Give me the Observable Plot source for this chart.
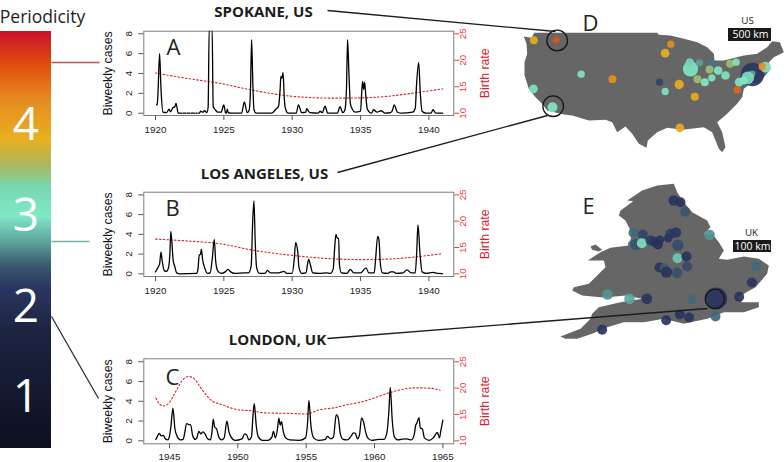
<!DOCTYPE html>
<html><head><meta charset="utf-8">
<script src="https://cdn.jsdelivr.net/npm/d3@7"></script>
<script src="https://cdn.jsdelivr.net/npm/@observablehq/plot@0.6"></script>
<style>
html,body{margin:0;padding:0;background:#fff}
#chart{position:relative;width:784px;height:462px;overflow:hidden}
#chart svg{position:absolute;left:0;top:0;background:transparent}
</style></head><body><div id="chart"></div>
<script>
// ---------- data ----------
const spokaneYears=[1920.08,1920.12,1920.18,1920.3,1920.4,1920.55,1920.8,1921,1921.1,1921.3,1921.4,1921.5,1921.65,1921.72,1921.9,1921.95,1922,1922.2,1922.25,1922.3,1922.5,1922.55,1922.6,1922.85,1922.9,1922.95,1923.05,1923.1,1923.15,1923.2,1923.3,1923.45,1923.6,1923.75,1923.85,1923.93,1924.02,1924.14,1924.22,1924.4,1924.55,1924.8,1925,1925.12,1925.18,1925.25,1925.32,1925.5,1926.3,1926.5,1926.7,1926.85,1926.95,1927.03,1927.12,1927.2,1927.35,1928.5,1928.8,1929,1929.12,1929.17,1929.25,1929.33,1929.42,1929.5,1929.7,1930.3,1930.45,1930.7,1931,1931.05,1931.3,1931.9,1932.05,1932.2,1932.4,1932.6,1933.3,1933.5,1933.7,1933.85,1933.97,1934.05,1934.15,1934.25,1934.4,1934.6,1935,1935.08,1935.15,1935.22,1935.3,1935.38,1935.5,1935.8,1935.95,1936.2,1936.5,1936.8,1937.2,1937.35,1937.45,1937.7,1938,1938.8,1939,1939.1,1939.25,1939.37,1939.5,1939.8,1940.15,1940.3,1940.5,1941];
const spokaneCases=[0.9,0.8,2,6,2.5,0.1,0.05,0.4,0.15,0.6,0.6,1,0.05,0,0,null,0,0,null,0,0,null,0,0,null,0,0,null,0,0,0.2,0.1,0.25,0.05,0.6,8.6,8.6,8.6,0.7,0.3,0.1,0.1,0.85,0.05,0,0.4,0.05,0,0,1.15,0.05,0.3,2.5,7.4,3,0.4,0,0,0.4,0.7,2.5,3.7,3.5,4.1,1.5,0.5,0,0,0.85,0.05,0.1,0.45,0.05,0,0.2,0.05,0.7,0,0,0.65,0.05,0.3,2.5,7.4,4,1,0.4,0.1,0.2,2,3.2,2.4,3.1,1.8,0.4,0,0.35,0.1,0.25,0,0.05,0.35,0.85,0.1,0,0.1,0.5,3,5.1,2,0.2,0,0,0.35,0,0];
const spokaneBirthYears=[1920,1922,1925,1927,1930,1933,1935,1937,1939,1941];
const spokaneBirthRate=[17.6,16.7,15.5,14.4,13.2,12.85,12.9,13.2,13.85,14.6];

const laYears=[1920,1920.2,1920.3,1920.4,1920.5,1920.65,1920.8,1920.95,1921.05,1921.12,1921.3,1921.4,1921.55,1921.8,1923,1923.1,1923.2,1923.3,1923.35,1923.45,1923.6,1923.8,1924,1924.15,1924.3,1924.4,1924.55,1924.8,1925.1,1925.3,1925.5,1925.8,1926.5,1926.8,1927,1927.1,1927.2,1927.3,1927.4,1927.6,1928,1928.2,1928.4,1929,1929.4,1929.6,1930,1930.15,1930.25,1930.4,1930.5,1930.7,1931,1931.2,1931.35,1931.5,1932,1932.5,1932.8,1933,1933.1,1933.2,1933.3,1933.4,1933.45,1933.6,1934,1934.25,1934.5,1935,1935.4,1935.6,1936,1936.1,1936.25,1936.35,1936.45,1936.6,1937,1937.2,1937.4,1937.6,1938.1,1938.4,1938.7,1939,1939.1,1939.2,1939.35,1939.5,1939.8,1940.3,1940.6,1941];
const laCases=[0.2,0.7,1,2.2,1.2,0.3,0.25,0.6,2,4.3,1.3,0.8,0.1,0,0.05,0.4,1.9,2,2.5,1.4,0.6,0.05,0.1,1.5,3.5,1.3,0.3,0.05,0.2,0.45,0.2,0.05,0.1,0.1,0.8,5,7.4,3,0.6,0.05,0.05,0.35,0.1,0.1,0.25,0.05,0.05,1.5,3.15,2.3,0.6,0.05,0.1,1.45,0.8,0.1,0.05,0.1,0.05,0.5,2.5,4,3.6,3.6,1,0.1,0.05,0.45,0.1,0.1,0.6,0.1,0.1,1.5,3.8,3.4,1,0.1,0.05,0.2,0.2,0.05,0.1,0.4,0.1,0.1,2,4.95,2,0.2,0.05,0.15,0.05,0.03];
const laBirthYears=[1920,1922,1925,1927,1930,1933,1935,1937,1939,1941];
const laBirthRate=[16.6,16.3,15.6,14.55,13.5,12.85,12.7,12.8,13.2,13.85];

const londonYears=[1944,1944.1,1944.25,1944.4,1944.55,1944.7,1944.9,1945,1945.1,1945.25,1945.4,1945.55,1945.8,1946,1946.1,1946.25,1946.4,1946.55,1946.7,1946.9,1947,1947.15,1947.3,1947.45,1947.6,1947.8,1948,1948.1,1948.2,1948.3,1948.45,1948.6,1948.8,1949,1949.2,1949.35,1949.5,1949.8,1950.3,1950.5,1950.65,1950.8,1951,1951.1,1951.2,1951.35,1951.5,1951.8,1952.2,1952.5,1952.6,1952.75,1952.9,1953,1953.1,1953.2,1953.3,1953.5,1953.8,1954.5,1954.95,1955.1,1955.2,1955.35,1955.55,1955.9,1956.4,1956.55,1956.8,1957,1957.2,1957.35,1957.5,1957.7,1958,1958.3,1958.45,1958.6,1958.75,1958.9,1959.05,1959.2,1959.35,1959.5,1959.8,1960.3,1960.7,1960.9,1961.05,1961.15,1961.3,1961.45,1961.7,1962.2,1962.5,1962.7,1962.9,1963,1963.1,1963.25,1963.35,1963.5,1963.65,1964,1964.3,1964.6,1964.75,1964.85,1965];
const londonCases=[0.15,0.4,0.75,0.5,0.55,0.2,0.1,0.5,1.4,3.3,1.2,0.5,0.1,0.15,0.7,1.75,1.65,1.6,0.5,0.15,0.3,0.95,0.7,0.9,0.7,0.2,0.1,0.8,2.2,1.4,1.2,0.4,0.1,0.3,2,0.9,0.4,0.05,0.2,0.7,0.6,0.1,0.4,2.4,3.75,1.5,0.4,0.05,0.05,0.4,0.95,0.3,1.2,2.3,1.6,1.95,1.1,0.3,0.1,0.05,0.3,1.8,4.1,1.5,0.3,0.05,0.15,0.45,0.2,0.4,2.65,2.3,0.7,0.15,0.1,0.5,0.8,0.75,0.2,0.6,2.3,1.9,0.9,0.3,0.05,0.15,0.15,0.8,3,5.4,2,0.4,0.1,0.2,0.15,0.1,0.6,1.5,1.8,2.35,1.3,1.2,0.3,0.05,0.3,0.85,0.3,1,2.1];
const londonBirthYears=[1944,1944.3,1944.55,1945,1945.5,1946,1946.4,1946.8,1947.3,1948,1949,1950,1951,1952,1953,1954,1955,1956,1957,1958,1959,1960,1961,1962,1963,1964,1964.8];
const londonBirthRate=[18.1,16.9,16.6,17.3,19.55,21.65,22.2,21.8,20,17.8,16.7,15.9,15.7,15.3,15.25,15.2,15.1,15.9,16.25,16.85,17.35,18.15,19.05,19.75,20.05,20,19.6];

const periodLabels=[1,2,3,4];
const periodStops=[0.44,1.71,2.19,2.44,2.73,2.99,3.32,3.54,3.84,4.28,4.68,5.04];
const periodColors=["#0c101f","#1c2340","#2a3560","#38586f","#60a8a0","#80e8c6","#78d8b0","#a8b860","#e9b020","#e58a20","#e04a0c","#c8102e"];

// map outlines and cities, in units
const usOutlineX=[40,62,72,440,445,480,520,560,590,610,612,640,700,740,770,785,808,820,790,775,780,765,745,720,700,695,680,650,620,635,645,635,625,605,580,515,470,440,412,408,385,365,345,320,305,285,235,185,160,110,95,75,55,42,42,50,48];
const usOutlineY=[108,112,97,97,103,105,115,125,140,160,180,180,165,160,140,122,125,155,170,185,205,225,245,250,265,290,310,340,365,395,440,455,445,395,380,388,382,395,420,442,430,400,378,395,365,358,360,345,342,330,310,290,265,225,185,160,130];
const usCityX=[726,70,137,212,306,69,126,481,464,447,464,506,553,508,540,538,567,603,597,623,561,583,604,645,659,677,765,755,725,712,686,700,680];
const usCityY=[222,119,118,221,236,265,320,131,158,245,273,252,289,382,205,186,187,192,207,210,236,245,232,225,190,185,200,198,220,232,245,240,268];
const usCitySize=[35,12,10,11,12,13,15,11,13,11,11,14,12,13,23,13,11,14,12,13,12,12,11,13,12,11,16,11,10,19,13,12,11];
const usCityPeriod=[2.2,3.9,4.62,3.1,4.25,3.1,3.05,4.25,3.85,2.3,3.1,3.9,3.9,3.9,3.05,2.9,2.7,2.55,3.5,3.05,3.5,3.0,3.05,3.05,3.5,3.05,3.05,4.25,2.7,3.2,3.05,3.05,4.5];

const ukOutlineX=[490,440,395,350,368,330,325,345,355,365,355,300,270,232,280,285,260,235,190,185,215,270,290,345,395,330,265,245,240,210,150,165,200,245,290,340,400,460,520,590,640,700,745,745,695,680,700,735,770,775,745,700,650,625,640,625,605,580,600,590,545,520,500];
const ukOutlineY=[40,45,60,90,92,120,135,150,170,190,225,232,245,270,270,290,315,340,350,360,375,380,380,375,385,395,410,430,445,475,498,505,505,490,470,455,455,445,460,445,425,425,410,395,395,378,370,350,310,285,265,258,268,265,240,215,190,190,170,150,125,95,65];
const angleseyX=[240,255,275,265,245];
const angleseyY=[228,222,238,243,238];
const ukCityX=[617,490,510,524,369,397,480,496,473,597,365,376,394,420,432,448,442,502,501,528,530,447,462,468,500,737,724,291,357,409,544,686,615,536,508,467,275];
const ukCityY=[384,90,95,124,187,192,190,186,203,193,222,222,218,210,214,208,222,224,263,258,288,291,292,305,307,288,336,372,385,385,387,379,438,441,432,449,478];
const ukCitySize=[33,16,15,15,15,15,15,16,13,16,13,17,15,15,15,13,15,17,15,15,15,15,14,17,16,14,15,16,16,16,14,15,15,15,15,15,15];
const ukCityPeriod=[2.15,2.15,2.15,2.42,2.5,2.3,2.25,2.2,2.15,2.65,2.55,2.4,2.95,2.25,2.2,2.15,2.1,2.35,2.85,2.15,2.35,2.15,2.45,2.15,2.4,2.5,2.2,2.65,2.72,2.15,2.5,2.15,2.5,2.2,2.15,2.15,2.15];

// ---------- helpers ----------
const host=document.getElementById("chart");
const W=784,H=462;
const AXIS_FONT="'Liberation Sans',Arial,sans-serif";
const SANS="'Open Sans',sans-serif";
const RED="#d9202f";
const colorScale={type:"linear",domain:periodStops,range:periodColors,interpolate:"rgb"};

function panel(c){
  const m={width:W,height:H,marginLeft:143.3,marginRight:W-453.3,marginTop:c.top,marginBottom:H-c.bottom,style:{fontFamily:AXIS_FONT,overflow:"visible"}};
  const x={domain:c.xDomain,axis:null};
  // birth rate: own y scale, right-hand axis
  host.append(Plot.plot({...m,x,y:{domain:c.birthDomain,axis:null},marks:[
    Plot.line(c.birth,{x:c.birthYears,y:c.birth,stroke:RED,strokeWidth:1.1,strokeDasharray:"1.6,2.2",curve:"monotone-x"}),
    Plot.axisY([10,15,20,25],{anchor:"right",tickRotate:-90,tickSize:5,tickPadding:7,fontSize:9.8,color:"#e0404c",label:null}),
    Plot.text(["Birth rate"],{frameAnchor:"right",textAnchor:"middle",dx:31,rotate:-90,fontSize:12.3,fill:RED})
  ]}));
  // cases: left axis, bottom axis, frame
  host.append(Plot.plot({...m,x,y:{domain:c.caseDomain,axis:null},marks:[
    Plot.frame({stroke:"#7d7d7d",strokeWidth:1}),
    Plot.line(c.cases,{x:c.years,y:c.cases,stroke:"#000",strokeWidth:1.3,curve:"monotone-x",clip:true}),
    Plot.axisX(c.xTicks,{anchor:"bottom",tickSize:5,tickPadding:c.tickPad,tickFormat:"d",fontSize:9.8,stroke:"#555",color:"#222",label:null}),
    Plot.axisY([0,2,4,6,8],{anchor:"left",tickRotate:-90,tickSize:5,tickPadding:7,fontSize:9.8,stroke:"#555",color:"#222",label:null}),
    Plot.text(["Biweekly cases"],{frameAnchor:"left",textAnchor:"middle",dx:-36,rotate:-90,fontSize:12.3,fill:"#111"})
  ]}));
}

panel({top:30.7,bottom:115,tickPad:6,xDomain:[1919.144,1941.82],caseDomain:[-0.23,8.26],birthDomain:[9.57,25.49],xTicks:[1920,1925,1930,1935,1940],
  years:spokaneYears,cases:spokaneCases,birthYears:spokaneBirthYears,birth:spokaneBirthRate});
panel({top:191.7,bottom:276,tickPad:6,xDomain:[1919.144,1941.82],caseDomain:[-0.27,8.27],birthDomain:[9.49,25.51],xTicks:[1920,1925,1930,1935,1940],
  years:laYears,cases:laCases,birthYears:laBirthYears,birth:laBirthRate});
panel({top:358.3,bottom:443.3,tickPad:4,xDomain:[1943.12,1965.8],caseDomain:[-0.3,8.3],birthDomain:[9.44,25.56],xTicks:[1945,1950,1955,1960,1965],
  years:londonYears,cases:londonCases,birthYears:londonBirthYears,birth:londonBirthRate});

// colour bar on the periodicity scale
const barSamples=d3.range(periodStops[0],periodStops[periodStops.length-1],0.01);
host.append(Plot.plot({width:W,height:H,margin:0,marginTop:30.7,marginBottom:H-448,marginRight:W-51,
  x:{domain:[0,1],axis:null},y:{domain:[periodStops[0],periodStops[periodStops.length-1]],axis:null},color:colorScale,
  style:{fontFamily:SANS},
  marks:[
    Plot.rect(barSamples,{x1:0,x2:1,y1:d=>d,y2:d=>d+0.012,fill:d=>d,shapeRendering:"crispEdges"}),
    Plot.text(periodLabels,{x:0.5,y:d=>d,text:String,fill:"#fff",fontSize:46,fontWeight:400})
  ]}));

function mapLayer(c){
  const outline=c.outlines.map(o=>Plot.line(o.y,{x:o.x,y:o.y,fill:"#666666",stroke:"none",curve:"linear"}));
  host.append(Plot.plot({width:W,height:H,margin:0,marginLeft:510,marginTop:c.top,marginBottom:H-c.top-c.h,marginRight:0,
    x:{domain:[0,822],axis:null},y:{domain:[0,c.h*3],reverse:true,axis:null},color:colorScale,
    r:{type:"linear",domain:[0,34],range:[0,11.33]},
    marks:[...outline,
      Plot.dot(c.size,{x:c.cx,y:c.cy,r:c.size,fill:c.period,fillOpacity:0.92,stroke:"none",sort:null}),
      Plot.dot(c.ringSizes,{x:c.ringX,y:c.ringY,r:c.ringSizes,fill:"none",stroke:"#161616",strokeWidth:1.3})
    ]}));
}
mapLayer({top:0,h:154,outlines:[{x:usOutlineX,y:usOutlineY}],cx:usCityX,cy:usCityY,size:usCitySize,period:usCityPeriod,
  ringX:[140,128],ringY:[120,317],ringSizes:[31,31]});
mapLayer({top:170,h:180,outlines:[{x:ukOutlineX,y:ukOutlineY},{x:angleseyX,y:angleseyY}],cx:ukCityX,cy:ukCityY,size:ukCitySize,period:ukCityPeriod,
  ringX:[613],ringY:[385],ringSizes:[29]});

// page annotations
const at=(text,x,y,o={})=>Plot.text([text],{x,y,text:d=>d,textAnchor:"middle",lineAnchor:"middle",...o});
const link=(x1,y1,x2,y2,stroke,strokeWidth=1.3)=>Plot.link([0],{x1,y1,x2,y2,stroke,strokeWidth});
const box=(x1,y1,x2,y2)=>Plot.rect([0],{x1,y1,x2,y2,fill:"#1a1a1a"});
const T={fontWeight:700,fontSize:15,fill:"#1c1c1c"};
const L={fontSize:22,fill:"#222"};
const S={fontSize:9.8,fill:"#222"};
const K={fontSize:10.5,fill:"#fff"};
host.append(Plot.plot({width:W,height:H,margin:0,x:{domain:[0,W],axis:null},y:{domain:[0,H],range:[0,H],axis:null},
  style:{fontFamily:SANS},
  marks:[
    link(51,62,99,62,"#c0504d"),
    link(51,241,89,241,"#6fb0a8"),
    link(51,316,98,398,"#2b2f3a"),
    link(327,10,555,31,"#1c1c1c"),
    link(337,172,547,115,"#1c1c1c"),
    link(327,338,707,308,"#1c1c1c"),
    at("Periodicity",42,17,{fontSize:17.5,fill:"#222"}),
    at("SPOKANE, US",263,12,T),
    at("LOS ANGELES, US",264,174,T),
    at("LONDON, UK",277,340,T),
    at("A",173,47,L),at("B",172,208,L),at("C",172,377,L),
    at("D",590,23,L),at("E",588,206,L),
    at("US",747,20,S),at("UK",751,232,S),
    box(728,28,771,41),box(733,240,771,252),
    at("500 km",750,34.5,K),at("100 km",752,246,K)
  ]}));
</script></body></html>
